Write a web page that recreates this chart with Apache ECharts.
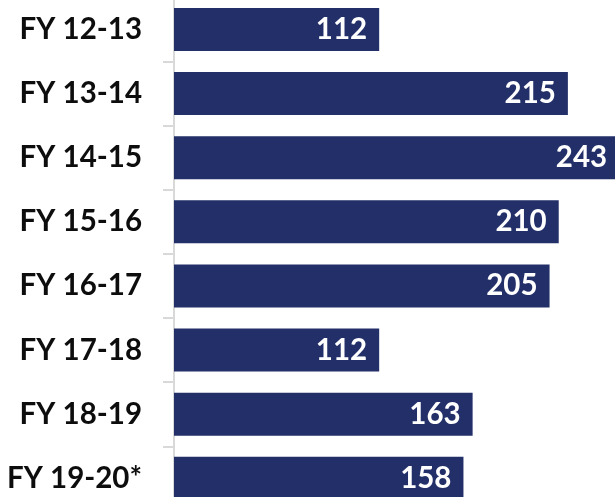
<!DOCTYPE html>
<html>
<head>
<meta charset="utf-8">
<script src="https://cdn.jsdelivr.net/npm/echarts@6/dist/echarts.min.js"></script>
<style>
html,body{margin:0;padding:0;background:#fff;}
#chart{width:615px;height:497px;}
</style>
</head>
<body>
<div id="chart"></div>
<script>
const categories = ['FY 12-13','FY 13-14','FY 14-15','FY 15-16','FY 16-17','FY 17-18','FY 18-19','FY 19-20*'];
const values = [112, 215, 243, 210, 205, 112, 163, 158];

const chart = echarts.init(document.getElementById('chart'), null, {renderer:'canvas'});
chart.setOption({
  animation: false,
  grid: {left: 174, top: -2.6, width: 458, height: 513, containLabel: false, outerBoundsMode: 'none'},
  xAxis: {
    type: 'value', min: 0, max: 250,
    show: false
  },
  yAxis: {
    type: 'category', data: categories, inverse: true,
    axisLine: {show: true, lineStyle: {color: '#d9d9d9', width: 2}},
    axisTick: {show: true, length: 11, lineStyle: {color: '#d9d9d9', width: 2}},
    axisLabel: {margin: 32, color: '#0d0d0d', fontFamily: 'Lato', fontWeight: 'bold', fontSize: 29.5},
    splitLine: {show: false}
  },
  series: [{
    type: 'bar', data: values, barWidth: 43,
    itemStyle: {color: '#222F68'},
    label: {show: true, position: 'insideRight', distance: 12, color: '#fff',
      fontFamily: 'Lato', fontWeight: 'bold', fontSize: 29.5}
  }]
});
</script>
</body>
</html>
